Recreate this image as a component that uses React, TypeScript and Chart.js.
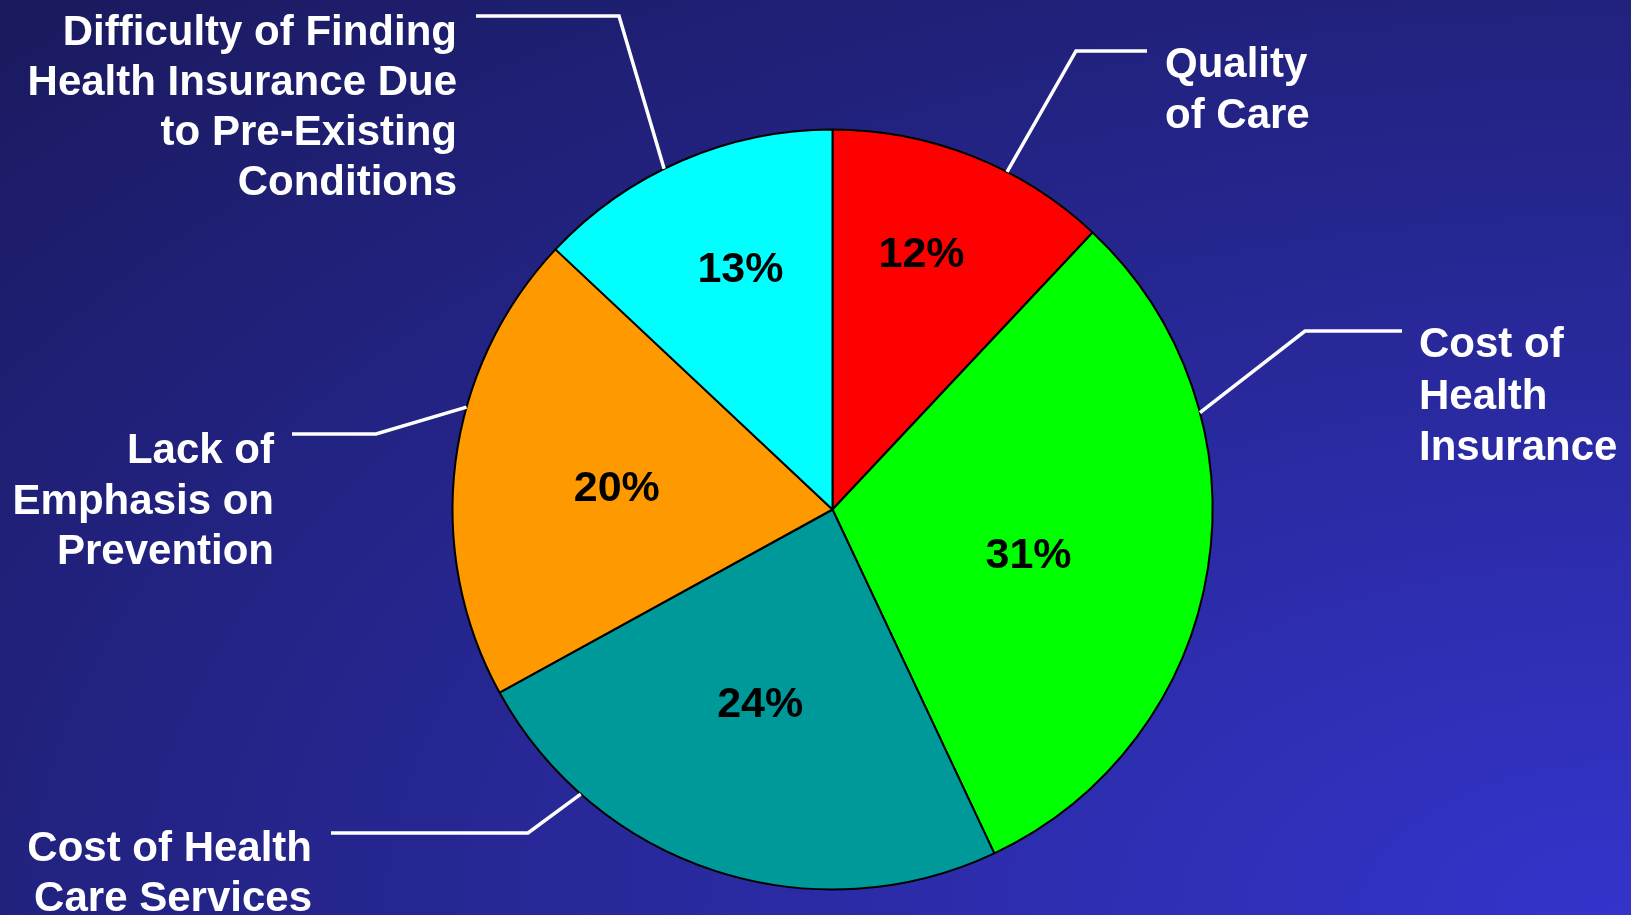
import React, { useEffect, useRef } from 'react';
import { Chart, registerables } from 'chart.js';

Chart.register(...registerables);

// ---- data ----
const categories = [
  'Quality of Care',
  'Cost of Health Insurance',
  'Cost of Health Care Services',
  'Lack of Emphasis on Prevention',
  'Difficulty of Finding Health Insurance Due to Pre-Existing Conditions',
];
const values = [12, 31, 24, 20, 13];
const labelLines = [
  ['Quality', 'of Care'],
  ['Cost of', 'Health', 'Insurance'],
  ['Cost of Health', 'Care Services'],
  ['Lack of', 'Emphasis on', 'Prevention'],
  ['Difficulty of Finding', 'Health Insurance Due', 'to Pre-Existing', 'Conditions'],
];

// ---- styles ----
const sliceColors = ['#ff0000', '#00ff00', '#009999', '#ff9900', '#00ffff'];
// percentage label placement: fraction along slice angle, fraction of radius
const pctPlacement = [
  { t: 0.441, f: 0.718 },
  { t: 0.53, f: 0.528 },
  { t: 0.53, f: 0.541 },
  { t: 0.487, f: 0.571 },
  { t: 0.557, f: 0.684 },
];
// leader line: fraction along slice angle where it touches the rim, then elbow/end
const leaderT = [0.633, 0.287, 0.772, 0.617, 0.438];
const leaderPath: number[][][] = [
  [[1076, 51], [1147, 51]],
  [[1305, 331], [1402, 331]],
  [[528, 833], [331, 833]],
  [[376, 434], [292, 434]],
  [[619, 16], [476, 16]],
];
const labelBoxes = [
  { x: 1165, y: 77, align: 'left', lh: 50.6 },
  { x: 1419, y: 357, align: 'left', lh: 51.5 },
  { x: 312, y: 861, align: 'right', lh: 50 },
  { x: 274, y: 463, align: 'right', lh: 50.5 },
  { x: 457, y: 45, align: 'right', lh: 50 },
];
const FONT = '"Liberation Sans", Arial, Helvetica, sans-serif';
const PCT_SIZE = 43;

const labelPlugin = {
  id: 'pieLabels',
  afterDraw(chart: any) {
    const ctx = chart.ctx as CanvasRenderingContext2D;
    const meta = chart.getDatasetMeta(0);
    ctx.save();
    meta.data.forEach((arc: any, i: number) => {
      const { x, y, startAngle, endAngle, outerRadius } = arc.getProps(
        ['x', 'y', 'startAngle', 'endAngle', 'outerRadius'],
        true
      );
      const span = endAngle - startAngle;
      // percentage
      const p = pctPlacement[i];
      const a = startAngle + p.t * span;
      const r = outerRadius * p.f;
      const cx = x + r * Math.cos(a);
      const cy = y + r * Math.sin(a);
      ctx.font = `bold ${PCT_SIZE}px ${FONT}`;
      ctx.fillStyle = '#000000';
      ctx.textAlign = 'center';
      ctx.textBaseline = 'alphabetic';
      ctx.fillText(`${values[i]}%`, cx, cy + 0.358 * PCT_SIZE);
      // leader line
      const la = startAngle + leaderT[i] * span;
      ctx.beginPath();
      ctx.moveTo(x + outerRadius * Math.cos(la), y + outerRadius * Math.sin(la));
      leaderPath[i].forEach(([px, py]) => ctx.lineTo(px, py));
      ctx.strokeStyle = '#ffffff';
      ctx.lineWidth = 3.5;
      ctx.lineJoin = 'miter';
      ctx.stroke();
      // category label
      const b = labelBoxes[i];
      ctx.font = `bold 42px ${FONT}`;
      ctx.fillStyle = '#ffffff';
      ctx.textAlign = b.align as CanvasTextAlign;
      labelLines[i].forEach((line, k) => {
        ctx.fillText(line, b.x, b.y + k * b.lh);
      });
    });
    ctx.restore();
  },
};

export default function App() {
  const ref = useRef<HTMLCanvasElement | null>(null);
  useEffect(() => {
    if (!ref.current) return;
    const chart = new Chart(ref.current, {
      type: 'pie',
      data: {
        labels: categories,
        datasets: [
          {
            data: values,
            backgroundColor: sliceColors,
            borderColor: '#000000',
            borderWidth: 2,
          },
        ],
      },
      options: {
        animation: false,
        responsive: false,
        devicePixelRatio: 1,
        radius: 380,
        layout: { padding: { left: 34, right: 0, top: 104, bottom: 0 } },
        plugins: {
          legend: { display: false },
          tooltip: { enabled: false },
        },
        events: [],
      } as any,
      plugins: [labelPlugin],
    });
    return () => chart.destroy();
  }, []);
  return (
    <div
      style={{
        position: 'absolute',
        left: 0,
        top: 0,
        width: 1631,
        height: 915,
        overflow: 'hidden',
        background:
          'radial-gradient(ellipse farthest-corner at 100% 100%, #3434cc 0%, #1a1a5e 100%)',
      }}
    >
      <canvas ref={ref} width={1631} height={915} style={{ display: 'block' }} />
    </div>
  );
}
